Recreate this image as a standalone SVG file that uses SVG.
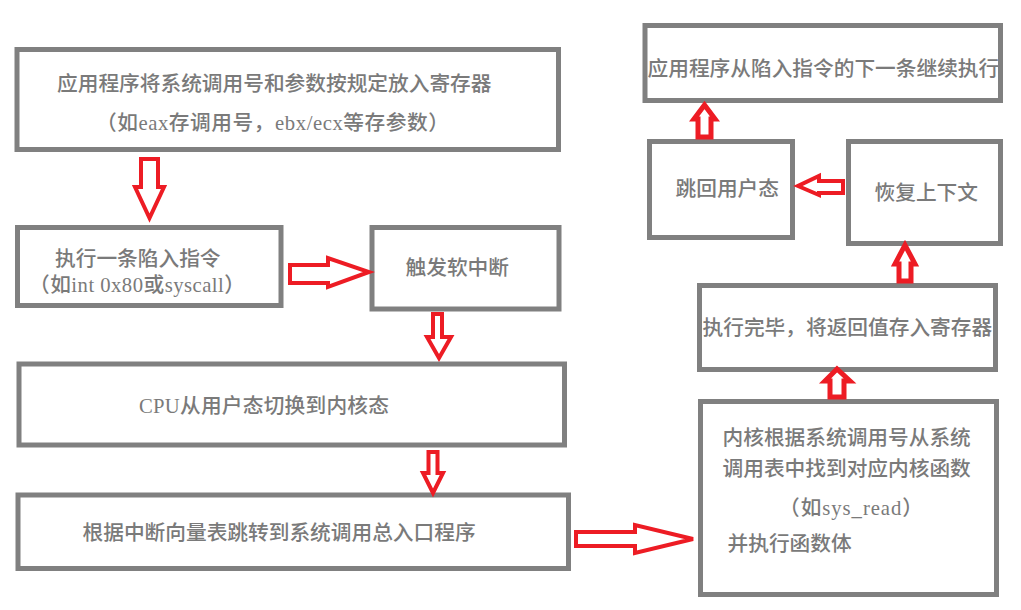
<svg xmlns="http://www.w3.org/2000/svg" width="1021" height="610" viewBox="0 0 1021 610">
<style>
.box{fill:none;stroke:#808080;stroke-width:5}
.t{font-family:"Liberation Serif","Noto Sans CJK SC",serif;font-size:20.7px;font-weight:500;fill:#7a7a7a}
.arr{fill:#ffffff;stroke:#ed1c24;stroke-width:4;stroke-linejoin:miter}
.arr5{fill:#ffffff;stroke:#ed1c24;stroke-width:5;stroke-linejoin:miter}
</style>
<rect x="0" y="0" width="1021" height="610" fill="#ffffff"/>
<g id="n1">
<text class="t" x="57" y="90.5">应用程序将系统调用号和参数按规定放入寄存器</text>
<text class="t" x="96" y="129.5" textLength="353">（如eax存调用号，ebx/ecx等存参数）</text>
<rect class="box" x="17" y="49.5" width="541.5" height="100"/>
</g>
<g id="n2">
<text class="t" x="55" y="265.5">执行一条陷入指令</text>
<text class="t" x="29" y="291.5" textLength="216">（如int 0x80或syscall）</text>
<rect class="box" x="17.5" y="227.5" width="263.5" height="78"/>
</g>
<g id="n3">
<text class="t" x="405.5" y="274.5">触发软中断</text>
<rect class="box" x="372" y="227.5" width="187" height="81.5"/>
</g>
<g id="n4">
<text class="t" x="139" y="412.5" textLength="250">CPU从用户态切换到内核态</text>
<rect class="box" x="19" y="364" width="545.5" height="81"/>
</g>
<g id="n5">
<text class="t" x="82.5" y="539.5">根据中断向量表跳转到系统调用总入口程序</text>
<rect class="box" x="18" y="495" width="550.5" height="73.5"/>
</g>
<g id="n6">
<text class="t" x="722.5" y="444.5">内核根据系统调用号从系统</text>
<text class="t" x="722.5" y="475.5">调用表中找到对应内核函数</text>
<text class="t" x="779" y="514.5" textLength="144">（如sys_read）</text>
<text class="t" x="727.5" y="550.5">并执行函数体</text>
<rect class="box" x="700.5" y="401.5" width="296" height="193"/>
</g>
<g id="n7">
<text class="t" x="702.5" y="334.5">执行完毕，将返回值存入寄存器</text>
<rect class="box" x="699.5" y="285.5" width="296" height="84"/>
</g>
<g id="n8">
<text class="t" x="874.5" y="199.5">恢复上下文</text>
<rect class="box" x="848.5" y="141.5" width="152" height="102"/>
</g>
<g id="n9">
<text class="t" x="675.5" y="195.5">跳回用户态</text>
<rect class="box" x="649.5" y="141.5" width="143" height="96"/>
</g>
<g id="n10">
<text class="t" x="647.5" y="75.5">应用程序从陷入指令的下一条继续执行</text>
<rect class="box" x="645" y="25.5" width="355.5" height="75"/>
</g>
<g id="connectors">
<path class="arr" d="M141,159 H158 V187 H164 L149.5,218 L135,187 H141 Z"/>
<path class="arr" d="M290,265 H328 V258 L369,272 L328,287 V283 H290 Z"/>
<path class="arr" d="M433,314 H442 V337 H451 L439,358 L427,337 H433 Z"/>
<path class="arr" d="M428.5,452 H437.5 V473 H443 L433,493 L423,473 H428.5 Z"/>
<path class="arr" d="M576,532 H635 V525 L693,539 L635,553 V546 H576 Z"/>
<path class="arr5" d="M830,397 V381 H825 L837,369 L850,381 H844 V397 Z"/>
<path class="arr5" d="M899,281 V264 H895 L905,245 L915,264 H911 V281 Z"/>
<path class="arr" d="M843,181 H819 V176 L798,186 L819,195 V193 H843 Z"/>
<path class="arr5" d="M698,137 V119 H694 L704.5,105 L715,119 H711 V137 Z"/>
</g>
</svg>
